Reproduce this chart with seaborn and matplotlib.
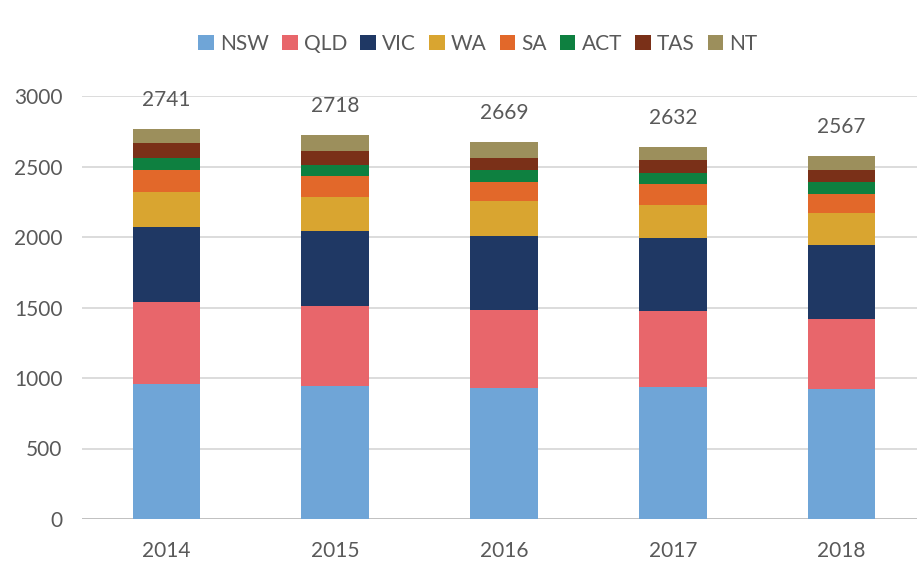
import numpy as np
import pandas as pd
import matplotlib
matplotlib.use("Agg")
import matplotlib.pyplot as plt
from matplotlib.patches import Patch
import seaborn as sns

years = ["2014", "2015", "2016", "2017", "2018"]
states = ["NSW", "QLD", "VIC", "WA", "SA", "ACT", "TAS", "NT"]
NSW = [956, 944, 932, 937, 921]
QLD = [582, 568, 552, 538, 499]
VIC = [536, 528, 526, 516, 524]
WA = [248, 243, 246, 236, 229]
SA = [154, 147, 133, 147, 133]
ACT = [87, 78, 87, 82, 87]
TAS = [103, 104, 87, 90, 83]
NT = [99, 113, 110, 90, 99]
totals = ["2741", "2718", "2669", "2632", "2567"]
colors = ["#6FA5D7", "#E8666B", "#1F3864", "#D9A530", "#E2682A",
          "#0E8040", "#7A3018", "#9C8F5C"]

series = [NSW, QLD, VIC, WA, SA, ACT, TAS, NT]
df = pd.DataFrame({s: v for s, v in zip(states, series)}, index=years)
cum = df.cumsum(axis=1)

sns.set_theme(style="white")
plt.rcParams["font.family"] = ["Lato", "DejaVu Sans"]

fig = plt.figure(figsize=(9.17, 5.62), dpi=100)
ax = fig.add_axes([82 / 917, 43 / 562, (917 - 82) / 917, 423 / 562])

for s, c in zip(states[::-1], colors[::-1]):
    sns.barplot(x=years, y=cum[s].values, color=c, saturation=1, width=0.4,
                linewidth=0, ax=ax, zorder=3)

ax.set_ylim(0, 3000)
ax.set_xlim(-0.5, 4.447)
ax.set_yticks(range(0, 3001, 500))
ax.grid(axis="y", color="#D9D9D9", linewidth=1.3, zorder=0)
ax.set_axisbelow(True)
for sp in ax.spines.values():
    sp.set_visible(False)
ax.axhline(0, color="#BFBFBF", linewidth=1.3, zorder=1)
ax.tick_params(axis="both", length=0, labelsize=15, colors="#595959")
ax.tick_params(axis="y", pad=14)
ax.tick_params(axis="x", pad=16)
ax.set_xlabel("")
ax.set_ylabel("")

top = cum["NT"].values
for i, (t, lab) in enumerate(zip(top, totals)):
    ax.annotate(lab, (i, t), xytext=(0, 21), textcoords="offset points",
                ha="center", va="center", fontsize=15, color="#595959")

handles = [Patch(facecolor=c, edgecolor="none") for c in colors]
fig.legend(handles, states, loc="center", bbox_to_anchor=(478 / 917, 1 - 44 / 562),
           ncol=8, frameon=False, fontsize=15, labelcolor="#595959",
           handlelength=0.75, handleheight=0.75, handletextpad=0.3,
           columnspacing=0.62)

fig.savefig("out.png", dpi=100)
